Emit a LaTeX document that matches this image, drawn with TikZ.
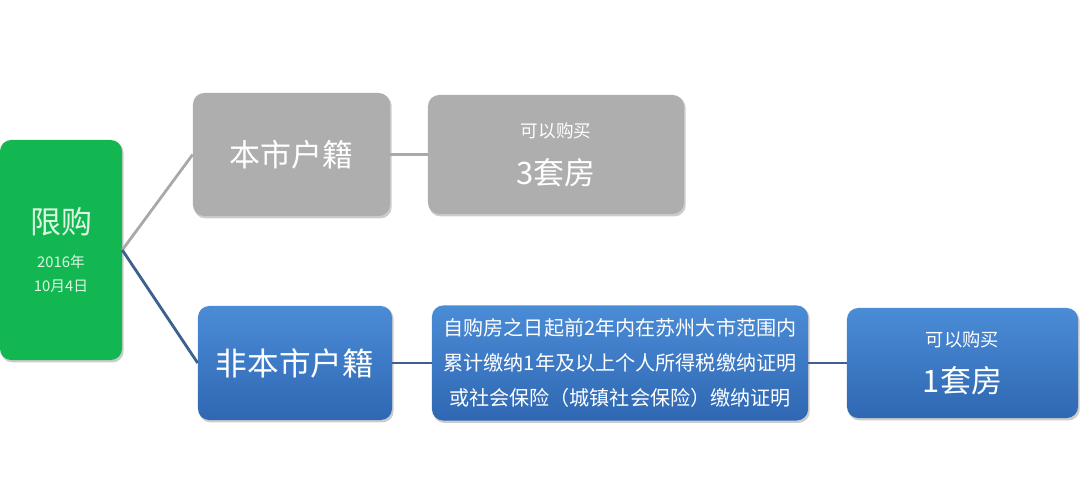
\documentclass[tikz,border=0pt]{standalone}
\usepackage{fontspec}
\setmainfont{Noto Sans CJK SC}
\usepackage{tikz}
\usetikzlibrary{backgrounds}
\definecolor{limitgreen}{HTML}{13B751}
\definecolor{limittext}{HTML}{DDF6E2}
\definecolor{boxgray}{HTML}{AEAEAF}
\definecolor{linegray}{HTML}{A9A9A9}
\definecolor{bluetop}{HTML}{4B8CD7}
\definecolor{bluebot}{HTML}{2F67B2}
\definecolor{lineblue}{HTML}{3D5F91}
\newcommand{\bigtxt}{\fontsize{22}{26}\selectfont}

\begin{document}
\begin{tikzpicture}[x=0.025cm,y=-0.025cm,
  box/.style={rounded corners=8pt, text=white, align=center, inner sep=0pt},
  graybox/.style={box, fill=boxgray},
  bluebox/.style={box, top color=bluetop, bottom color=bluebot},
  grayline/.style={line width=2pt, draw=linegray},
  blueline/.style={line width=2pt, draw=lineblue}]
\useasboundingbox (0,0) rectangle (1080,498);
% left: the rule itself
\node[box, fill=limitgreen, text=limittext, minimum width=3.05cm, minimum height=5.5cm,
  font=\fontsize{10.5}{17}\selectfont] (limit) at (61,250)
  {{\bigtxt 限购}\\[7.5pt]2016年\\10月4日};
% upper row: local residents
\node[graybox, minimum width=4.925cm, minimum height=3.075cm] (local) at (291.5,154.5) {\bigtxt 本市户籍};
\node[graybox, minimum width=6.4cm, minimum height=2.975cm, font=\fontsize{12.5}{15}\selectfont] (localbuy) at (556,154.5)
  {可以购买\\[13pt]{\bigtxt 3套房}};
% lower row: non-local residents
\node[bluebox, minimum width=4.85cm, minimum height=2.85cm] (nonlocal) at (295,363) {\fontsize{22.5}{26}\selectfont 非本市户籍};
\node[bluebox, minimum width=9.4cm, minimum height=2.875cm, font=\fontsize{14.3}{25}\selectfont] (proof) at (620,363)
  {自购房之日起前2年内在苏州大市范围内\\累计缴纳1年及以上个人所得税缴纳证明\\或社会保险（城镇社会保险）缴纳证明};
\node[bluebox, minimum width=5.775cm, minimum height=2.75cm, font=\fontsize{13}{16}\selectfont] (nonlocalbuy) at (962.5,363)
  {可以购买\\[12pt]{\bigtxt 1套房}};
% soft shadows under the boxes
\begin{scope}[on background layer]
\foreach \b in {limit,local,localbuy,nonlocal,proof,nonlocalbuy}
  \fill[black,opacity=0.2,rounded corners=8pt] ([shift={(1pt,-1.5pt)}]\b.south west) rectangle ([shift={(1pt,-1.5pt)}]\b.north east);
\end{scope}
% connectors
\draw[grayline] (limit.east) -- (local.west);
\draw[grayline] (local.east) -- (localbuy.west);
\draw[blueline] (limit.east) -- (nonlocal.west);
\draw[blueline] (nonlocal.east) -- (proof.west);
\draw[blueline] (proof.east) -- (nonlocalbuy.west);
\end{tikzpicture}
\end{document}
